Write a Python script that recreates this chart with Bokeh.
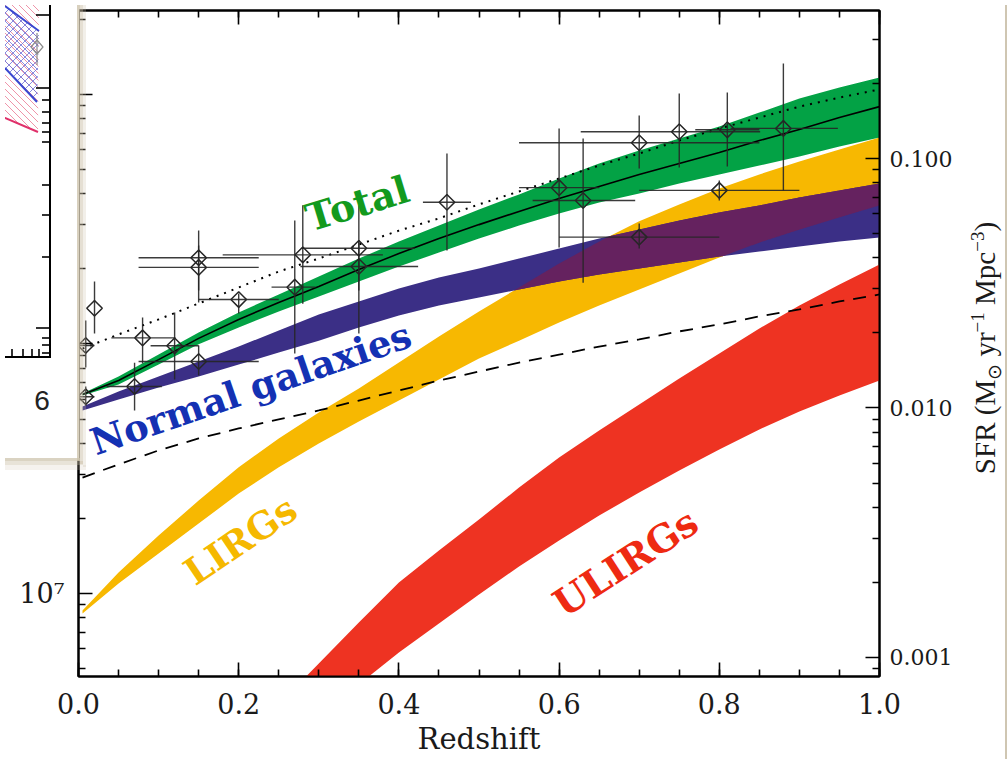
import numpy as np
from bokeh.plotting import figure
from bokeh.models import (Range1d, LogScale, LogAxis, LinearAxis, FixedTicker, GridBox, Div,
                          SingleIntervalTicker, PrintfTickFormatter, CustomJSTickFormatter, Label)
from bokeh.embed import file_html
from bokeh.resources import INLINE

# ---------------- model bands: log10 SFR density on a common redshift grid ----------------
z_grid = [0.005, 0.05, 0.10, 0.15, 0.20, 0.25, 0.30, 0.35, 0.40, 0.45, 0.50,
          0.55, 0.60, 0.65, 0.70, 0.75, 0.80, 0.85, 0.90, 0.95, 1.00]

total_hi = [-1.942, -1.874, -1.786, -1.697, -1.617, -1.545, -1.473, -1.401, -1.333, -1.269, -1.204,
            -1.144, -1.080, -1.020, -0.968, -0.920, -0.872, -0.816, -0.760, -0.715, -0.675]
total_lo = [-1.950, -1.906, -1.826, -1.745, -1.677, -1.613, -1.553, -1.493, -1.433, -1.377, -1.321,
            -1.269, -1.220, -1.176, -1.140, -1.100, -1.064, -1.028, -0.992, -0.952, -0.916]
total_mid = [-1.946, -1.890, -1.806, -1.721, -1.645, -1.577, -1.513, -1.445, -1.381, -1.321, -1.265,
             -1.212, -1.160, -1.112, -1.064, -1.020, -0.976, -0.928, -0.884, -0.836, -0.792]
total_dotted = [-1.762, -1.705, -1.645, -1.581, -1.517, -1.453, -1.401, -1.345, -1.289, -1.240, -1.184,
                -1.132, -1.080, -1.028, -0.980, -0.928, -0.880, -0.836, -0.792, -0.756, -0.723]
dashed_curve = [-2.279, -2.226, -2.170, -2.122, -2.082, -2.046, -2.010, -1.970, -1.930, -1.890, -1.854,
                -1.818, -1.786, -1.754, -1.725, -1.693, -1.665, -1.633, -1.605, -1.573, -1.545]
normal_hi = [-1.994, -1.934, -1.874, -1.814, -1.754, -1.689, -1.625, -1.573, -1.521, -1.477, -1.441,
             -1.401, -1.361, -1.321, -1.285, -1.249, -1.216, -1.188, -1.156, -1.128, -1.100]
normal_lo = [-2.010, -1.966, -1.918, -1.874, -1.826, -1.778, -1.730, -1.677, -1.629, -1.589, -1.557,
             -1.525, -1.493, -1.465, -1.441, -1.417, -1.393, -1.373, -1.353, -1.333, -1.317]
lirg_hi = [-2.812, -2.659, -2.511, -2.371, -2.238, -2.122, -2.018, -1.922, -1.818, -1.713, -1.613,
           -1.517, -1.421, -1.333, -1.252, -1.184, -1.120, -1.064, -1.012, -0.964, -0.916]
lirg_lo = [-2.824, -2.703, -2.583, -2.463, -2.343, -2.238, -2.142, -2.054, -1.970, -1.886, -1.802,
           -1.730, -1.657, -1.589, -1.525, -1.461, -1.397, -1.337, -1.285, -1.236, -1.188]

ulirg_z = [0.25, 0.30, 0.35, 0.40, 0.45, 0.50, 0.55, 0.60, 0.65, 0.70, 0.75, 0.80, 0.85, 0.90, 0.95, 1.00]
ulirg_hi = [-3.188, -3.024, -2.860, -2.699, -2.571, -2.447, -2.319, -2.198, -2.090, -1.986, -1.882,
            -1.782, -1.681, -1.589, -1.505, -1.425]
ulirg_lo = [-3.365, -3.236, -3.108, -2.980, -2.864, -2.748, -2.635, -2.531, -2.431, -2.339, -2.251,
            -2.166, -2.086, -2.014, -1.950, -1.890]

# ---------------- measurements (SFR density, Msun/yr/Mpc^3) ----------------
pt_z =      [0.009, 0.009, 0.020, 0.070, 0.080, 0.120, 0.150, 0.150, 0.150, 0.200, 0.270, 0.280,
             0.350, 0.350, 0.460, 0.600, 0.630, 0.700, 0.700, 0.750, 0.800, 0.810, 0.880]
pt_sfr =    [0.0111, 0.0178, 0.0251, 0.0122, 0.0191, 0.01775, 0.01535, 0.0400, 0.0366, 0.0272, 0.0305, 0.0411,
             0.0437, 0.0369, 0.0668, 0.0764, 0.0679, 0.1156, 0.0484, 0.128, 0.0745, 0.1303, 0.132]
pt_z_lo =   [0.000, 0.000, 0.020, 0.035, 0.041, 0.090, 0.075, 0.075, 0.075, 0.150, 0.241, 0.180,
             0.280, 0.277, 0.430, 0.550, 0.567, 0.550, 0.600, 0.627, 0.700, 0.770, 0.814]
pt_z_hi =   [0.020, 0.020, 0.020, 0.104, 0.121, 0.150, 0.225, 0.225, 0.225, 0.250, 0.296, 0.380,
             0.420, 0.424, 0.490, 0.650, 0.695, 0.850, 0.800, 0.851, 0.900, 0.850, 0.948]
pt_sfr_lo = [0.0102, 0.01452, 0.0199, 0.00977, 0.01508, 0.0130, 0.01349, 0.02649, 0.0296, 0.0239, 0.01652, 0.0262,
             0.0296, 0.0199, 0.0428, 0.0440, 0.0318, 0.0912, 0.0436, 0.0921, 0.0679, 0.0929, 0.0745]
pt_sfr_hi = [0.0122, 0.02244, 0.0321, 0.0152, 0.02306, 0.02415, 0.0178, 0.0514, 0.0448, 0.0288, 0.0564, 0.0649,
             0.0649, 0.0469, 0.1047, 0.1318, 0.1202, 0.1487, 0.0549, 0.1822, 0.0817, 0.1839, 0.2404]

# SFR -> IR luminosity density conversion used for the left-hand axis
LOG_SFR_TO_LIR = 9.7435

GREEN, NAVY, GOLD, RED, PLUM = "#03a245", "#3b2f86", "#f7b801", "#ee3322", "#65225f"

sfr_min, sfr_max = 10 ** -3.0762, 10 ** -0.4068

p = figure(width=1007, height=759, x_range=Range1d(0.0, 1.0), y_range=Range1d(sfr_min, sfr_max),
           y_axis_type="log", y_axis_location="right", output_backend="svg", toolbar_location=None,
           min_border_left=78, min_border_right=128, min_border_top=10, min_border_bottom=83)
p.xgrid.visible = False
p.ygrid.visible = False
p.outline_line_color = "black"
p.outline_line_width = 2
p.background_fill_color = "white"
p.border_fill_color = "white"

zg = np.array(z_grid)
lg = lambda a: 10 ** np.asarray(a, dtype=float)

# bands
p.varea(x=ulirg_z, y1=lg(ulirg_lo), y2=lg(ulirg_hi), color=RED)
p.varea(x=zg, y1=lg(lirg_lo), y2=lg(lirg_hi), color=GOLD)
p.varea(x=zg, y1=lg(normal_lo), y2=lg(normal_hi), color=NAVY)

# where the normal-galaxy and LIRG bands overlap
zf = np.linspace(zg[0], zg[-1], 1200)
nb_hi, nb_lo = np.interp(zf, zg, normal_hi), np.interp(zf, zg, normal_lo)
lb_hi, lb_lo = np.interp(zf, zg, lirg_hi), np.interp(zf, zg, lirg_lo)
ov_lo = np.maximum(nb_lo, lb_lo)
ov_hi = np.maximum(np.minimum(nb_hi, lb_hi), ov_lo)
p.varea(x=zf, y1=10 ** ov_lo, y2=10 ** ov_hi, color=PLUM)

p.varea(x=zg, y1=lg(total_lo), y2=lg(total_hi), color=GREEN)

# model curves
p.line(zg, lg(total_mid), line_color="black", line_width=1.6)
p.line(zg, lg(total_dotted), line_color="black", line_width=2, line_dash="2 6")
p.line(zg, lg(dashed_curve), line_color="black", line_width=1.8, line_dash="13 9")

# measurements with error bars
err_col = "#262626"
p.segment(x0=pt_z_lo, y0=pt_sfr, x1=pt_z_hi, y1=pt_sfr, line_color=err_col, line_width=1.4, line_alpha=0.9)
p.segment(x0=pt_z, y0=pt_sfr_lo, x1=pt_z, y1=pt_sfr_hi, line_color=err_col, line_width=1.4, line_alpha=0.9)
p.scatter(pt_z, pt_sfr, marker="square", angle=np.pi / 4, size=11, fill_color=None,
          line_color=err_col, line_width=1.5)

# band labels
for txt, zx, ly, ang, col, fs in [("Total", 0.348, -1.180, 17, "#139a1d", "38px"),
                                  ("Normal galaxies", 0.215, -1.922, 19, "#1431b3", "37px"),
                                  ("LIRGs", 0.202, -2.531, 34, "#f5b800", "37px"),
                                  ("ULIRGs", 0.683, -2.619, 33, "#ee2a12", "38px")]:
    p.add_layout(Label(x=zx, y=10 ** ly, text=txt, angle=ang, angle_units="deg",
                       text_color=col, text_font="DejaVu Serif", text_font_style="bold",
                       text_font_size=fs, text_align="center", text_baseline="middle"))


def style_axis(ax, size):
    ax.axis_line_color = "black"
    ax.axis_line_width = 2
    ax.major_tick_in = 14
    ax.major_tick_out = 0
    ax.minor_tick_in = 7
    ax.minor_tick_out = 0
    ax.major_tick_line_width = 1.6
    ax.minor_tick_line_width = 1.6
    ax.major_tick_line_color = "black"
    ax.minor_tick_line_color = "black"
    ax.major_label_text_font = "DejaVu Serif"
    ax.major_label_text_font_size = size
    ax.major_label_text_color = "#1a1a1a"


decades = [1e-4, 1e-3, 1e-2, 1e-1, 1.0]
minors = [m * d for d in decades for m in range(2, 10)]

# bottom redshift axis
xa = p.xaxis[0]
style_axis(xa, "27px")
xa.ticker = SingleIntervalTicker(interval=0.2, num_minor_ticks=4)
xa.formatter = PrintfTickFormatter(format="%.1f")
xa.major_label_standoff = 16
xa.axis_label = "Redshift"
xa.axis_label_text_font = "DejaVu Serif"
xa.axis_label_text_font_size = "29px"
xa.axis_label_text_font_style = "normal"
xa.axis_label_text_color = "#1a1a1a"
xa.axis_label_standoff = 5

# top axis (ticks only)
ta = LinearAxis(ticker=SingleIntervalTicker(interval=0.2, num_minor_ticks=4))
style_axis(ta, "0px")
ta.major_label_standoff = 0
ta.major_label_text_alpha = 0
p.add_layout(ta, "above")

# right SFR axis (its title, which reads upwards, is set on the page layer below)
ra = p.yaxis[0]
style_axis(ra, "22px")
ra.ticker = FixedTicker(ticks=[1e-3, 1e-2, 1e-1], minor_ticks=minors)
ra.formatter = PrintfTickFormatter(format="%.3f")
ra.major_label_standoff = 10

# left IR luminosity density axis
p.extra_y_ranges = {"lir": Range1d(sfr_min * 10 ** LOG_SFR_TO_LIR, sfr_max * 10 ** LOG_SFR_TO_LIR)}
p.extra_y_scales = {"lir": LogScale()}
lum_decades = [1e6, 1e7, 1e8, 1e9, 1e10]
la = LogAxis(y_range_name="lir",
             ticker=FixedTicker(ticks=[1e7, 1e8, 1e9],
                                minor_ticks=[m * d for d in lum_decades for m in range(2, 10)]),
             formatter=CustomJSTickFormatter(code="""
                 const e = Math.round(Math.log10(tick));
                 const sup = {6: '\u2076', 7: '\u2077', 8: '\u2078', 9: '\u2079'};
                 return '10' + sup[e];
             """))
style_axis(la, "27px")
la.major_label_standoff = 14
p.add_layout(la, "left")

# ---------------- page layer on top: SFR axis title, pasted figure fragment, page edge ----------------
parts = []
# SFR axis title, rotated to read upwards, centred on the frame height
parts.append('<text transform="translate(990,343) rotate(-90)" text-anchor="middle" fill="#1a1a1a" '
             'style="font-family:\'Liberation Serif\',serif;font-size:29px">SFR (M'
             '<tspan dy="6" style="font-size:19px">\u2299</tspan><tspan dy="-6"> yr</tspan>'
             '<tspan dy="-11" style="font-size:19px">\u22121</tspan><tspan dy="11"> Mpc</tspan>'
             '<tspan dy="-11" style="font-size:19px">\u22123</tspan><tspan dy="11">)</tspan></text>')
# fragment background and its drop shadow
parts.append('<rect x="0" y="0" width="74" height="455" fill="white"/>')
for (x0, x1, y0, y1, a) in [(72, 75, 0, 456, 0.75), (75, 78, 0, 459, 0.5), (78, 81, 0, 462, 0.25),
                            (0, 75, 453, 456, 0.7), (0, 78, 456, 460, 0.45), (0, 81, 460, 465, 0.2)]:
    parts.append(f'<rect x="{x0}" y="{y0}" width="{x1 - x0}" height="{y1 - y0}" fill="#cbc0a8" '
                 f'fill-opacity="{a}"/>')
parts.append('<defs><clipPath id="pk"><polygon points="0,0 34,0 33,127 0,113"/></clipPath>'
             '<clipPath id="bl"><polygon points="0,1 34,26 32,97 0,63"/></clipPath></defs>')
pink = "".join(f'<line x1="{x}" y1="0" x2="{x + 140}" y2="140"/>' for x in range(-140, 40, 7))
parts.append(f'<g clip-path="url(#pk)" stroke="#ec7a94" stroke-width="1" opacity="0.8">{pink}</g>')
blue = "".join(f'<line x1="{x}" y1="0" x2="{x - 120}" y2="120"/>' for x in range(0, 160, 8))
blue += "".join(f'<line x1="{x}" y1="0" x2="{x + 120}" y2="120"/>' for x in range(-120, 40, 8))
parts.append(f'<g clip-path="url(#bl)" stroke="#6d70d8" stroke-width="1" opacity="0.8">{blue}</g>')
parts.append('<g fill="none" stroke-width="2">'
             '<line x1="0" y1="1" x2="34" y2="26" stroke="#3a47d0"/>'
             '<line x1="0" y1="63" x2="32" y2="97" stroke="#3a47d0"/>'
             '<line x1="0" y1="113" x2="33" y2="127" stroke="#e0306a"/></g>')
parts.append('<g stroke="#8a8a8a" stroke-width="1.2" fill="none">'
             '<polygon points="32,35 38,42 32,49 26,42"/><line x1="32" y1="28" x2="32" y2="60"/></g>')
ticks = [(31, 10), (31, 83), (31, 323)] + [(37, y) for y in [95, 107, 118, 127, 137, 180, 210, 252,
                                                             333, 340, 348]]
tick_svg = "".join(f'<line x1="{x}" y1="{y}" x2="45" y2="{y}"/>' for x, y in ticks)
tick_svg += "".join(f'<line x1="{x}" y1="344" x2="{x}" y2="352"/>' for x in [7, 18, 27, 34])
parts.append(f'<g stroke="black" stroke-width="1.6">{tick_svg}'
             '<line x1="45" y1="0" x2="45" y2="353" stroke-width="2"/>'
             '<line x1="0" y1="352" x2="46" y2="352" stroke-width="2"/></g>')
parts.append('<text x="37" y="405" text-anchor="middle" fill="#222" '
             'style="font-family:\'Liberation Sans\',sans-serif;font-size:28px">6</text>')
parts.append('<rect x="1000" y="0" width="2" height="759" fill="#cfc6b2"/>'
             '<rect x="1002" y="0" width="5" height="759" fill="#e4ddcf"/>')
svg = ('<svg xmlns="http://www.w3.org/2000/svg" width="1007" height="759" '
       'style="display:block">' + "".join(parts) + '</svg>')
page = Div(text=svg, width=1007, height=759,
           styles={"pointer-events": "none", "position": "relative", "z-index": "10"})

layout = GridBox(children=[(p, 0, 0), (page, 0, 0)])
open("out.html", "w").write(file_html(layout, INLINE))
